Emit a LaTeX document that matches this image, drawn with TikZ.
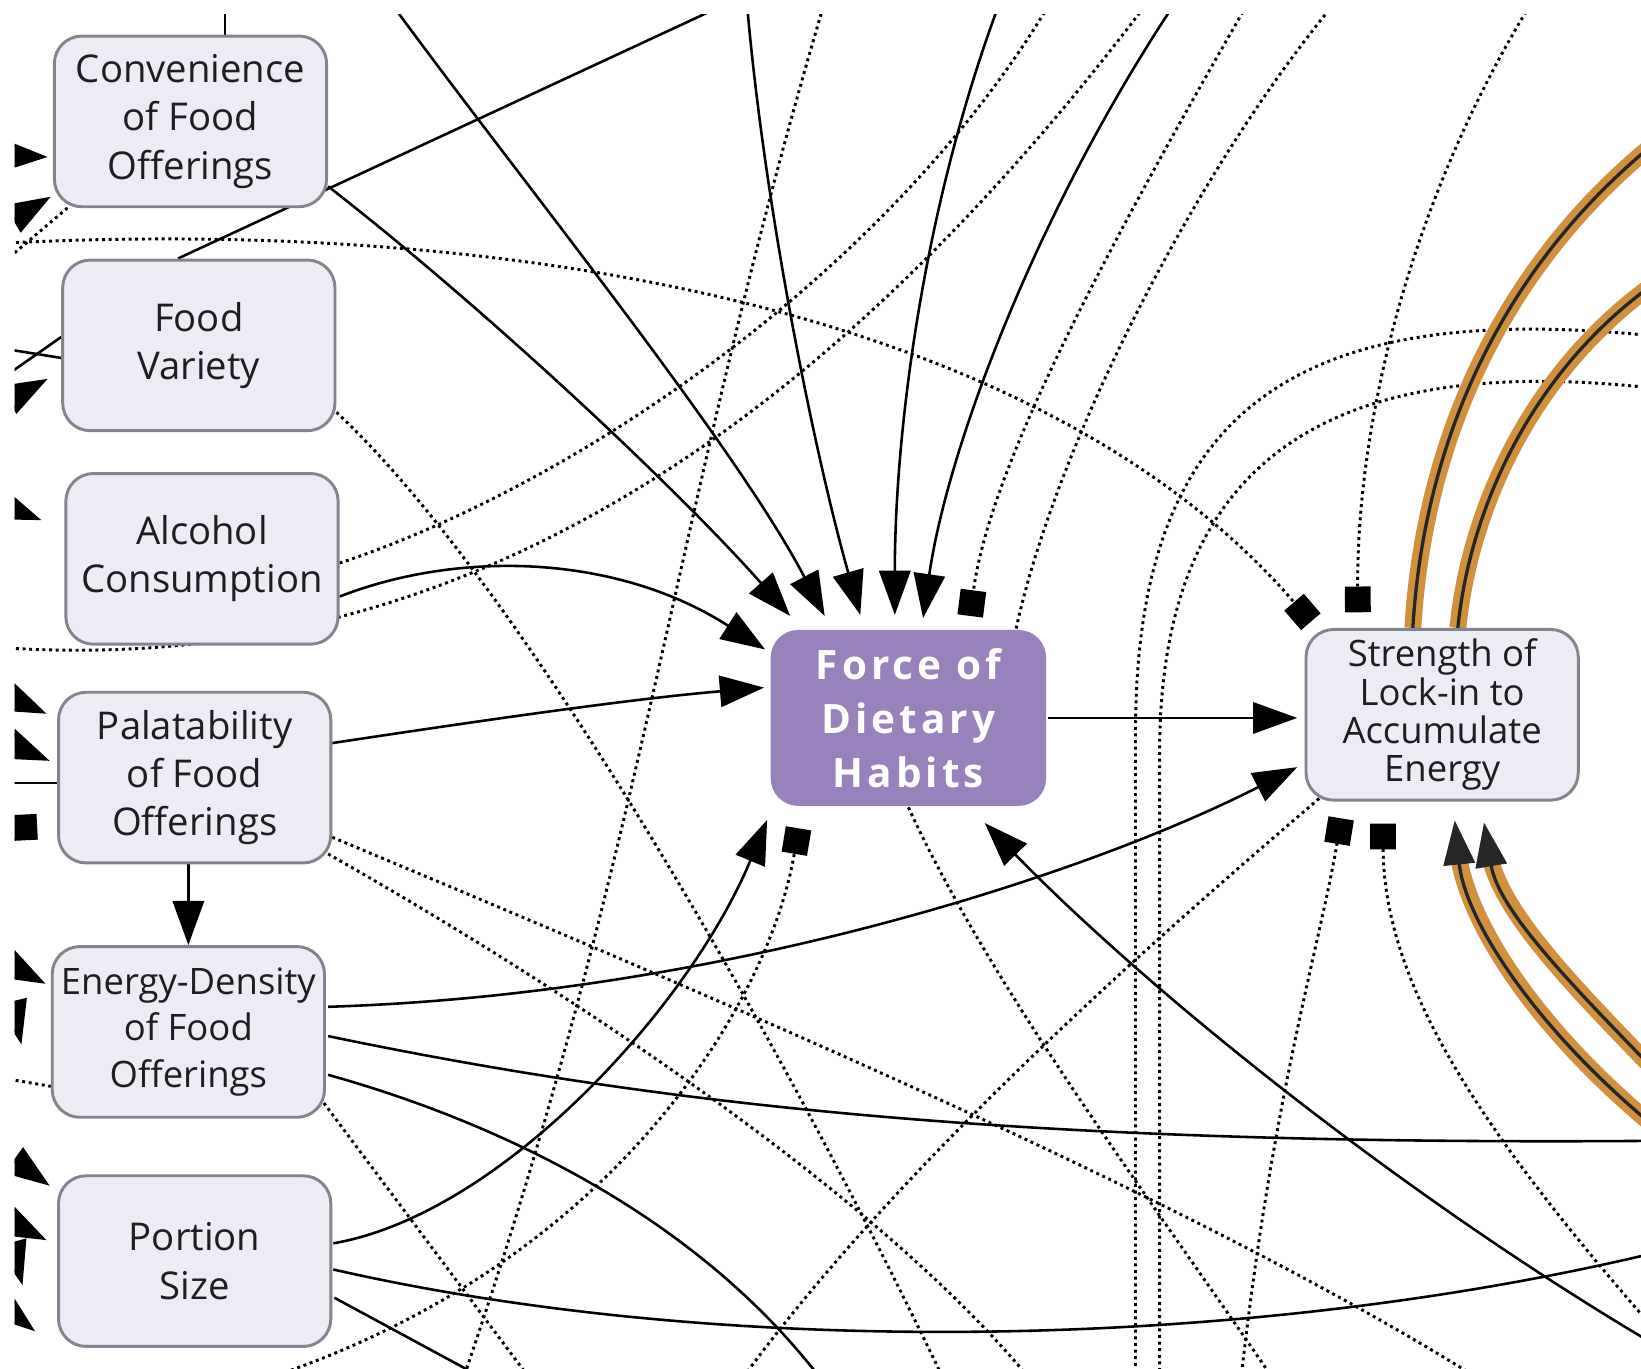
\documentclass[tikz,border=0pt]{standalone}
\usepackage{fontspec}
\setmainfont{Open Sans}
\usetikzlibrary{arrows.meta,calc}

\definecolor{boxfill}{RGB}{236,236,244}
\definecolor{boxline}{RGB}{132,132,142}
\definecolor{habitfill}{RGB}{152,130,188}
\definecolor{loopband}{RGB}{208,144,62}
\definecolor{ink}{RGB}{30,30,34}

\pgfdeclarelayer{paper}
\pgfdeclarelayer{links}
\pgfsetlayers{paper,links,main}

\tikzset{
  factor/.style={draw=boxline, line width=0.8pt, fill=boxfill, rounded corners=7.5pt,
    minimum width=2.6cm, minimum height=1.63cm, inner sep=0pt, align=center,
    text=ink, font={\fontsize{10.4}{13.1}\selectfont}},
  habit/.style={factor, draw=none, fill=habitfill, text=white,
    minimum width=2.63cm, minimum height=1.68cm,
    font={\fontsize{11}{14.7}\bfseries\addfontfeatures{LetterSpace=10}}},
  lockin/.style={factor, font={\fontsize{9.9}{10.4}\selectfont}},
  density/.style={factor, font={\fontsize{9.9}{12.7}\selectfont}},
  link/.style={line width=0.7pt, draw=black},
  weak/.style={line width=0.8pt, draw=black, dash pattern=on 0.8pt off 1.0pt},
  push/.style={-{Triangle[length=12pt,width=8.5pt]}},
  stop/.style={-{Square[length=7pt,width=7pt]}},
  band/.style={draw=loopband, line width=4.6pt},
  core/.style={draw=black!85, line width=0.9pt},
}

\begin{document}
\begin{tikzpicture}[x=0.01cm, y=-0.01cm]
\useasboundingbox (0,0) rectangle (1568,1308);
\begin{pgfonlayer}{paper}
  \fill[white] (0,0) rectangle (1568,1308);
\end{pgfonlayer}

% ---------- factors ----------
\node[factor]  (C)  at (182,116)  {Convenience\\of Food\\Offerings};
\node[factor]  (FV) at (190,330)  {Food\\Variety};
\node[factor]  (AC) at (193,534)  {Alcohol\\Consumption};
\node[factor]  (P)  at (186,743)  {Palatability\\of Food\\Offerings};
\node[density] (ED) at (180,986)  {Energy-Density\\of Food\\Offerings};
\node[factor]  (PS) at (186,1205) {Portion\\Size};
\node[habit]   (F)  at (868,686)  {Force of\\Dietary\\Habits};
\node[lockin]  (S)  at (1378,683) {Strength of\\Lock-in to\\Accumulate\\Energy};

% ---------- loose ends beyond the frame ----------
% top
\coordinate (tA) at (215,-5);
\coordinate (tB) at (702,0);
\coordinate (tC) at (368,-5);
\coordinate (tD) at (713,-5);
\coordinate (tE) at (958,-5);
\coordinate (tF) at (1128,-5);
\coordinate (tG) at (790,-5);
\coordinate (tH) at (1008,-5);
\coordinate (tI) at (1102,-5);
\coordinate (tJ) at (1197,-5);
\coordinate (tK) at (1282,-5);
\coordinate (tL) at (1468,-5);
% right
\coordinate (rA) at (1590,322);
\coordinate (rB) at (1590,372);
\coordinate (rC) at (1590,1090);
\coordinate (rD) at (1590,1195);
\coordinate (rE) at (1590,1290);
\coordinate (rF) at (1600,1292);
\coordinate (rG) at (1600,122);
\coordinate (rH) at (1600,258);
\coordinate (rI) at (1600,1092);
\coordinate (rJ) at (1600,1042);
% bottom
\coordinate (bA) at (230,1325);
\coordinate (bB) at (440,1325);
\coordinate (bC) at (486,1330);
\coordinate (bD) at (512,1325);
\coordinate (bE) at (790,1325);
\coordinate (bF) at (905,1325);
\coordinate (bG) at (990,1325);
\coordinate (bH) at (1085,1325);
\coordinate (bI) at (1108,1325);
\coordinate (bJ) at (1185,1325);
\coordinate (bK) at (1425,1325);
\coordinate (bL) at (700,1330);
\coordinate (bM) at (1225,1330);
% left
\coordinate (lA) at (-10,148);
\coordinate (lB) at (-10,222);
\coordinate (lC) at (-10,262);
\coordinate (lD) at (-10,233);
\coordinate (lE) at (-10,331);
\coordinate (lF) at (-10,370);
\coordinate (lG) at (-10,392);
\coordinate (lH) at (-10,478);
\coordinate (lI) at (-10,618);
\coordinate (lJ) at (-10,658);
\coordinate (lK) at (-10,703);
\coordinate (lL) at (-10,748);
\coordinate (lM) at (-25,793);
\coordinate (lN) at (-10,912);
\coordinate (lO) at (8,945);
\coordinate (lP) at (-10,1028);
\coordinate (lQ) at (-10,1092);
\coordinate (lR) at (-10,1158);
\coordinate (lS) at (8,1178);
\coordinate (lT) at (-10,1238);

% ---------- connectors ----------
\begin{pgfonlayer}{links}
\begin{scope}
\clip (14,14) rectangle (1568,1308);

% dotted (weak) links
\draw[weak, stop] (lD) .. controls (500,205) and (1000,300) .. ($(S.north west)+(6,-6)$);
\draw[weak, stop] (tL) .. controls (1340,200) and (1296,420) .. ($(S.north west)+(51,-15)$);
\draw[weak, stop] (bJ) .. controls (1215,1050) and (1262,900) .. ($(S.south west)+(35,16)$);
\draw[weak, stop] (rF) .. controls (1430,1100) and (1322,950) .. ($(S.south west)+(75,21)$);
\draw[weak] ($(S.south west)+(14,-3)$) .. controls (1100,900) and (850,1120) .. (bL);
\draw[weak] (F.south) .. controls (950,950) and (1110,1160) .. (bM);
\draw[weak, stop] (bA) .. controls (580,1220) and (735,960) .. ($(F.south west)+(28,20)$);
\draw[weak] (tG) .. controls (640,500) and (620,800) .. (bB);
\draw[weak] ($(AC.east)+(0,4)$) .. controls (560,460) and (860,250) .. (tH);
\draw[weak] (lI) .. controls (400,650) and (760,450) .. (tI);
\draw[weak, stop] (tJ) .. controls (1050,250) and (945,450) .. ($(F.north west)+(192,-12)$);
\draw[weak] ($(F.north east)+(-30,0)$) .. controls (1010,420) and (1150,150) .. (tK);
\draw[weak] (rA) .. controls (1250,285) and (1085,380) .. (1085,700) -- (bH);
\draw[weak] (rB) .. controls (1280,335) and (1108,430) .. (1108,720) -- (bI);
\draw[weak] ($(FV.south east)+(0,-19)$) .. controls (500,560) and (750,1000) .. (bF);
\draw[weak] ($(P.east)+(0,57)$) .. controls (700,960) and (1150,1150) .. (bK);
\draw[weak] ($(P.south east)+(-4,-10)$) .. controls (550,950) and (850,1150) .. (bG);
\draw[weak] ($(ED.south east)+(-2,-15)$) -- (bD);
\draw[weak] (lP) -- ($(ED.west)+(0,52)$);
\draw[weak] (lC) -- ($(C.south west)+(16,-2)$);

% solid links
\draw[link] (tA) -- ($(C.north)+(33,0)$);
\draw[link] ($(FV.north)+(-20,0)$) -- (tB);
\draw[link, push] ($(C.east)+(0,62)$) .. controls (470,300) and (650,470) .. ($(F.north west)+(20,-12)$);
\draw[link, push] (tC) .. controls (480,150) and (700,420) .. ($(F.north west)+(53,-12)$);
\draw[link, push] (tD) .. controls (730,200) and (780,440) .. ($(F.north west)+(87,-13)$);
\draw[link, push] (tE) .. controls (880,200) and (855,420) .. ($(F.north west)+(120,-13)$);
\draw[link, push] (tF) .. controls (990,200) and (905,430) .. ($(F.north west)+(147,-10)$);
\draw[link, push] ($(AC.east)+(0,36)$) .. controls (440,525) and (590,530) .. ($(F.north west)+(-4,20)$);
\draw[link, push] ($(P.east)+(0,-33)$) .. controls (450,690) and (600,668) .. ($(F.west)+(-5,-29)$);
\draw[link, push] ($(P.south)+(-6,0)$) -- (ED.north);
\draw[link, push] ($(ED.east)+(2,-24)$) .. controls (700,950) and (1050,830) .. ($(S.west)+(-7,50)$);
\draw[link] ($(ED.east)+(2,4)$) .. controls (650,1060) and (1000,1095) .. (rC);
\draw[link] ($(ED.east)+(2,41)$) .. controls (450,1065) and (660,1150) .. (bE);
\draw[link, push] ($(PS.east)+(1,-17)$) .. controls (480,1160) and (660,960) .. ($(F.south west)+(-2,12)$);
\draw[link] ($(PS.east)+(1,8)$) .. controls (700,1300) and (1200,1290) .. (rD);
\draw[link] ($(PS.east)+(2,35)$) -- (bC);
\draw[link, push] (F.east) -- ($(S.west)+(-7,3)$);
\draw[link, push] (rE) .. controls (1350,1150) and (1100,950) .. ($(F.south east)+(-60,15)$);

% links entering from the left margin
\draw[link, push] (lA) -- ($(C.west)+(-5,34)$);
\draw[link, push] (lB) -- ($(C.south west)+(-2,-11)$);
\draw[link] (lE) -- ($(FV.west)+(0,12)$);
\draw[link] (lF) -- ($(FV.west)+(0,-8)$);
\draw[link, push] (lG) -- ($(FV.west)+(-13,32)$);
\draw[link, push] (lH) -- ($(AC.west)+(-22,-37)$);
\draw[link, push] (lJ) -- ($(P.west)+(-10,-61)$);
\draw[link, push] (lK) -- ($(P.west)+(-7,-16)$);
\draw[link] (lL) -- ($(P.west)+(0,5)$);
\draw[link, stop] (lM) -- ($(P.west)+(-19,47)$);
\draw[link, push] (lN) -- ($(ED.west)+(-5,-46)$);
\draw[link, push] (lO) -- ($(ED.west)+(-28,12)$);
\draw[link, push] (lQ) -- ($(PS.west)+(-7,-72)$);
\draw[link, push] (lR) -- ($(PS.west)+(-10,-20)$);
\draw[link, push] (lS) -- ($(PS.west)+(-33,23)$);
\draw[link, push] (lT) -- ($(PS.west)+(-21,67)$);

% reinforcing loops of the lock-in
\draw[band] ($(S.north)+(-28,0)$) .. controls (1360,430) and (1430,250) .. (rG);
\draw[core] ($(S.north)+(-28,0)$) .. controls (1360,430) and (1430,250) .. (rG);
\draw[band] ($(S.north)+(15,0)$) .. controls (1405,480) and (1470,340) .. (rH);
\draw[core] ($(S.north)+(15,0)$) .. controls (1405,480) and (1470,340) .. (rH);
\draw[band, shorten >=8pt] (rI) .. controls (1470,990) and (1400,880) .. ($(S.south)+(12,18)$);
\draw[core, push] (rI) .. controls (1470,990) and (1400,880) .. ($(S.south)+(12,18)$);
\draw[band, shorten >=8pt] (rJ) .. controls (1500,940) and (1432,870) .. ($(S.south)+(40,20)$);
\draw[core, push] (rJ) .. controls (1500,940) and (1432,870) .. ($(S.south)+(40,20)$);
\end{scope}
\end{pgfonlayer}
\end{tikzpicture}
\end{document}
